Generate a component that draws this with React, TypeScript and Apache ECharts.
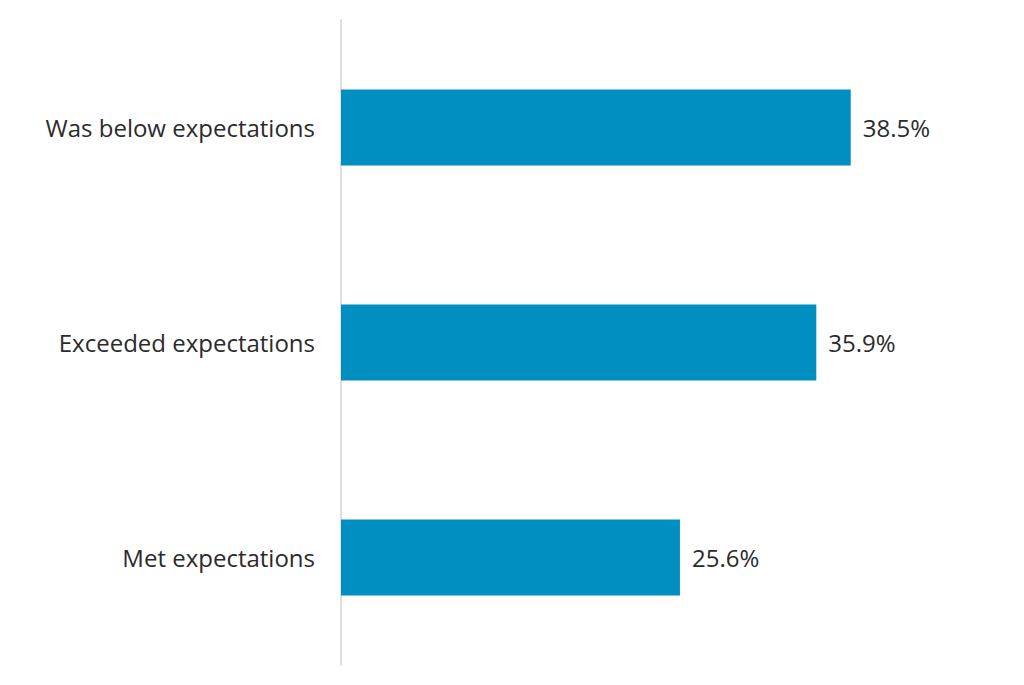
import { useEffect, useRef } from "react"
import * as echarts from "echarts"

const categories = ["Met expectations", "Exceeded expectations", "Was below expectations"]
const values = [25.6, 35.9, 38.5]

export default function App() {
  const chartRef = useRef<HTMLDivElement>(null)

  useEffect(() => {
    if (!chartRef.current) return
    const chart = echarts.init(chartRef.current, undefined, { renderer: "svg" })

    chart.setOption({
      animation: false,
      grid: { left: 341, right: 21, top: 20, bottom: 20 },
      xAxis: {
        type: "value",
        min: 0,
        max: 50,
        show: false,
      },
      yAxis: {
        type: "category",
        data: categories,
        axisLine: { show: true, lineStyle: { color: "#d4d4d4", width: 1.5 } },
        axisTick: { show: false },
        axisLabel: {
          color: "#2b2b2b",
          fontSize: 24,
          fontFamily: "Open Sans",
          margin: 26,
        },
      },
      series: [
        {
          type: "bar",
          data: values,
          barWidth: 76,
          itemStyle: { color: "#008fc0" },
          label: {
            show: true,
            position: "right",
            distance: 12,
            color: "#2b2b2b",
            fontSize: 24,
            fontFamily: "Open Sans",
            formatter: (p: any) => `${p.value.toFixed(1)}%`,
          },
        },
      ],
    })

    return () => {
      chart.dispose()
    }
  }, [])

  return (
    <div
      ref={chartRef}
      style={{ position: "fixed", left: 0, top: 0, width: 1024, height: 685, background: "#fff" }}
    />
  )
}
